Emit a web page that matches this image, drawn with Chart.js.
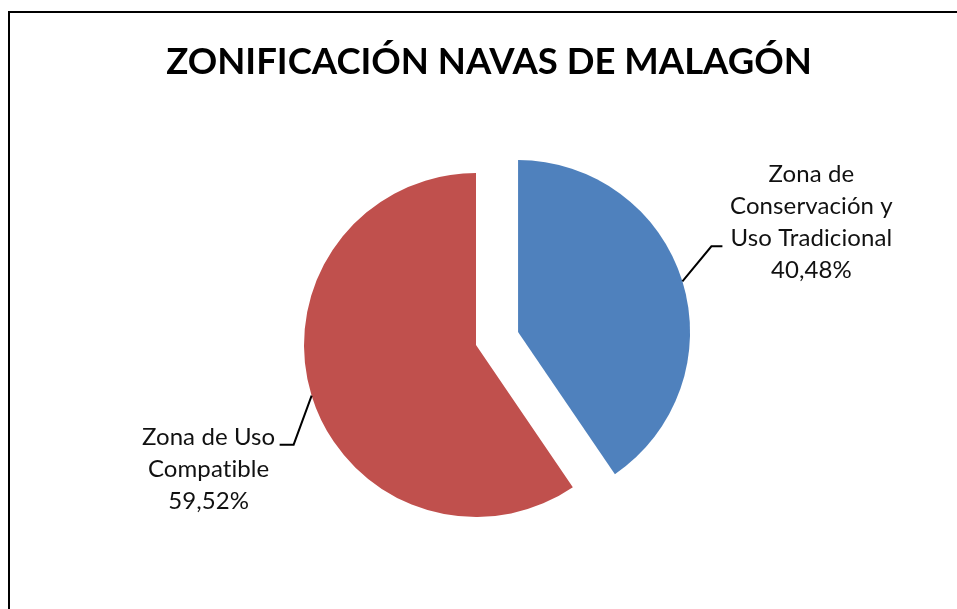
<!DOCTYPE html>
<html>
<head>
<meta charset="utf-8">
<script src="https://cdn.jsdelivr.net/npm/chart.js@4"></script>
<style>
html, body { margin: 0; padding: 0; background: #fff; }
#wrap { position: relative; width: 957px; height: 609px; overflow: hidden; }
#frame { position: absolute; left: 8px; top: 11px; width: 1000px; height: 700px;
         border-top: 2px solid #000; border-left: 2px solid #000; }
canvas { position: absolute; left: 0; top: 0; }
</style>
</head>
<body>
<div id="wrap">
  <div id="frame"></div>
  <canvas id="zonas" width="957" height="609"></canvas>
</div>
<script>
// data
var TITLE = "ZONIFICACIÓN NAVAS DE MALAGÓN";
var ZONES = [["Zona de", "Conservación y", "Uso Tradicional"], ["Zona de Uso", "Compatible"]];
var PERCENTS = [40.48, 59.52];
var COLORS = ["#4F81BD", "#C0504D"];

var FONT = "Lato, 'Open Sans', sans-serif";

// pulls slices out from the centre (drawn with the arc element itself)
var explodePlugin = {
  id: 'explode',
  beforeDatasetDraw: function(chart, args, opts) {
    var ctx = chart.ctx;
    args.meta.data.forEach(function(arc, i) {
      var d = opts.dist[i] || 0;
      var mid = (arc.startAngle + arc.endAngle) / 2;
      ctx.save();
      ctx.translate(Math.cos(mid) * d, Math.sin(mid) * d);
      arc.draw(ctx);
      ctx.restore();
    });
    return false;
  }
};

// category + percent labels with leader lines
var labelPlugin = {
  id: 'sliceLabels',
  afterDatasetsDraw: function(chart, args, opts) {
    var ctx = chart.ctx;
    var meta = chart.getDatasetMeta(0);
    var dist = chart.options.plugins.explode.dist;
    meta.data.forEach(function(arc, i) {
      var mid = (arc.startAngle + arc.endAngle) / 2;
      var r = arc.outerRadius;
      var d = dist[i] || 0;
      var px = arc.x + Math.cos(mid) * r + Math.cos(mid) * d;
      var py = arc.y + Math.sin(mid) * r + Math.sin(mid) * d;
      var lead = opts.leaders[i];

      ctx.save();
      ctx.strokeStyle = '#000';
      ctx.lineWidth = 2;
      ctx.beginPath();
      ctx.moveTo(px, py);
      ctx.lineTo(px + lead.elbow[0], py + lead.elbow[1]);
      ctx.lineTo(px + lead.end[0], py + lead.end[1]);
      ctx.stroke();

      var val = chart.data.datasets[0].data[i];
      var lines = chart.data.labels[i].concat([val.toFixed(2).replace('.', ',') + '%']);
      var cx = px + lead.text[0], cy = py + lead.text[1];
      ctx.fillStyle = '#111';
      ctx.font = opts.size + 'px ' + FONT;
      ctx.letterSpacing = '0.1px'; // keeps "ti" from turning into a ligature
      ctx.textAlign = 'center';
      ctx.textBaseline = 'middle';
      lines.forEach(function(t, j) {
        ctx.fillText(t, cx, cy + (j - (lines.length - 1) / 2) * opts.lineHeight);
      });
      ctx.restore();
    });
  },
  afterDraw: function(chart, args, opts) {
    var ctx = chart.ctx;
    ctx.save();
    ctx.fillStyle = '#000';
    ctx.font = 'bold ' + opts.titleSize + 'px ' + FONT;
    ctx.textAlign = 'center';
    ctx.textBaseline = 'middle';
    ctx.fillText(TITLE, 489, 62);
    ctx.restore();
  }
};

var ctx = document.getElementById('zonas').getContext('2d');
var zonasChart = new Chart(ctx, {
  type: 'pie',
  data: {
    labels: ZONES,
    datasets: [{
      data: PERCENTS,
      backgroundColor: COLORS,
      borderWidth: 0
    }]
  },
  options: {
    responsive: false,
    animation: false,
    events: [],
    radius: 172,
    layout: { padding: { left: 0, right: 5, top: 81, bottom: 0 } },
    plugins: {
      legend: { display: false },
      title: { display: false },
      tooltip: { enabled: false },
      explode: { dist: [44, 0] },
      sliceLabels: {
        size: 24,
        titleSize: 36.5,
        lineHeight: 32,
        leaders: [
          { elbow: [29, -35], end: [40, -35], text: [129, -59] },
          { elbow: [-18, 49], end: [-32, 49], text: [-103, 74] }
        ]
      }
    }
  },
  plugins: [explodePlugin, labelPlugin]
});
</script>
</body>
</html>
